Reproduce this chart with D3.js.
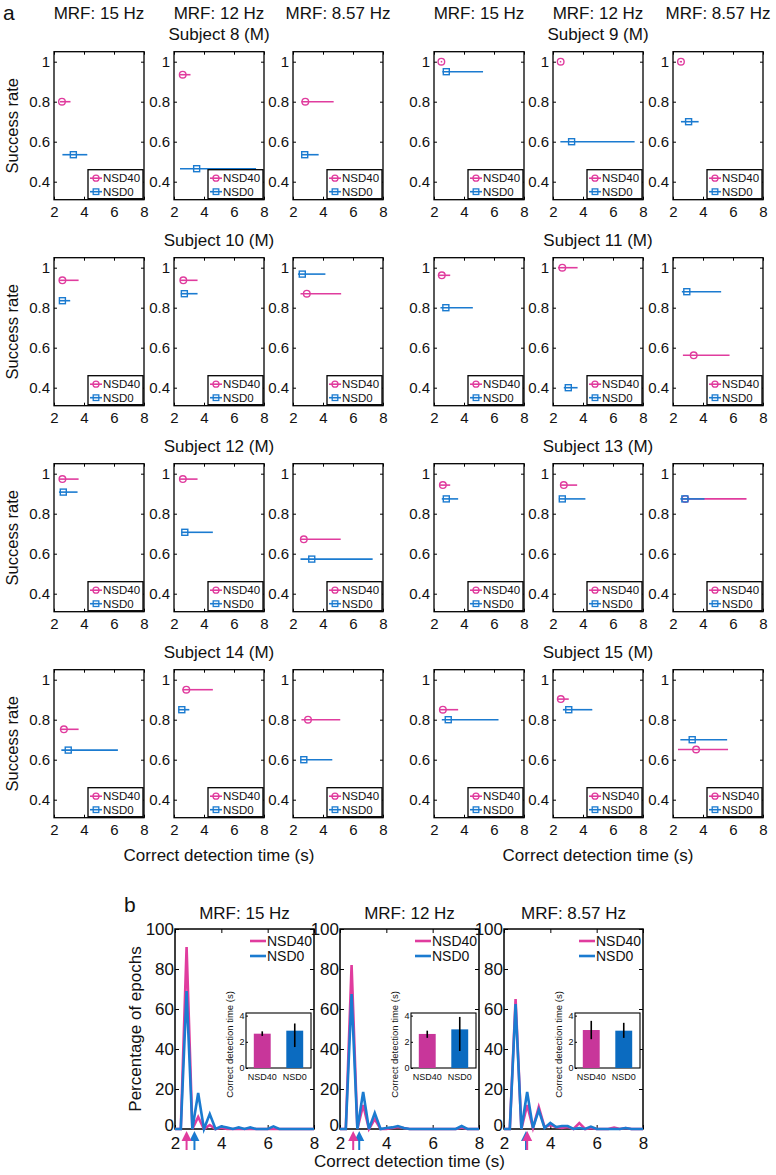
<!DOCTYPE html>
<html><head><meta charset="utf-8">
<script src="https://cdn.jsdelivr.net/npm/d3@7"></script>
<style>
body{margin:0;background:#fff}
svg{display:block}
text{font-family:"Liberation Sans",Arial,sans-serif;fill:#111}
</style>
</head><body>
<svg id="c" width="776" height="1175"></svg>
<script>
// ---------------- DATA ----------------
const subjects = ["Subject 8 (M)","Subject 9 (M)","Subject 10 (M)","Subject 11 (M)",
                  "Subject 12 (M)","Subject 13 (M)","Subject 14 (M)","Subject 15 (M)"];
const mrfLabels = ["MRF: 15 Hz","MRF: 12 Hz","MRF: 8.57 Hz"];
const seriesNames = ["NSD40","NSD0"];
const xTicksA = [2,4,6,8];
const yTicksA = [0.4,0.6,0.8,1];

// per subject: [15 Hz, 12 Hz, 8.57 Hz]
const nsd40Rate = [[0.80,0.935,0.80],[1.0,1.0,1.0],[0.937,0.937,0.87],[0.962,1.0,0.562],
                   [0.973,0.973,0.672],[0.943,0.943,0.874],[0.752,0.95,0.80],[0.85,0.903,0.651]];
const nsd40Time = [[2.53,2.58,2.82],[2.49,2.51,2.53],[2.56,2.62,2.92],[2.52,2.62,3.38],
                   [2.56,2.59,2.72],[2.59,2.72,2.82],[2.66,2.82,3.0],[2.59,2.52,3.54]];
const nsd40Lo   = [[2.40,2.40,2.56],[2.45,2.45,2.45],[2.33,2.40,2.50],[2.26,2.33,2.66],
                   [2.33,2.40,2.50],[2.36,2.49,2.59],[2.39,2.56,2.56],[2.36,2.33,2.33]];
const nsd40Hi   = [[3.10,3.10,4.71],[2.55,2.55,2.60],[3.64,3.57,5.21],[3.08,3.64,5.77],
                   [3.64,3.57,5.18],[3.08,3.61,6.90],[3.64,4.59,5.15],[3.61,3.05,5.67]];
const nsd0Rate  = [[0.535,0.465,0.535],[0.95,0.60,0.70],[0.835,0.87,0.968],[0.80,0.40,0.88],
                   [0.908,0.707,0.573],[0.874,0.874,0.874],[0.648,0.85,0.60],[0.80,0.85,0.70]];
const nsd0Time  = [[3.29,3.51,2.78],[2.82,3.24,3.04],[2.56,2.69,2.62],[2.79,3.02,2.92],
                   [2.62,2.72,3.25],[2.82,2.62,2.79],[2.95,2.52,2.72],[2.95,3.05,3.28]];
const nsd0Lo    = [[2.56,2.40,2.56],[2.56,2.49,2.53],[2.33,2.45,2.33],[2.43,2.72,2.59],
                   [2.33,2.50,2.50],[2.52,2.39,2.49],[2.49,2.30,2.49],[2.52,2.66,2.49]];
const nsd0Hi    = [[4.22,7.47,3.71],[5.27,7.44,3.71],[3.08,3.57,4.16],[4.59,3.64,5.21],
                   [3.57,4.59,7.31],[3.61,4.16,4.10],[6.26,3.02,4.62],[6.30,4.62,5.61]];

// part b histograms, bins in seconds
const histX = [2.0,2.25,2.5,2.75,3.0,3.25,3.5,3.75,4.0,4.25,4.5,4.75,5.0,5.25,5.5,5.75,6.0,6.25,6.5,6.75,7.0,7.25,7.5,7.75,8.0];
const histNSD40 = [
  [0,0,91,0,6,0,2,0,0.6,0,0,0,0,0,0,0,0,0,0,0,0,0,0,0,0],
  [0,0,82,0,12,0,5,0,0,0.5,1,0.5,0,0,0,0,0,0,0,0,0,0.8,0,0,0],
  [0,0,65,0,12,0.5,11,1,2,1,0.5,1,0,3,0,0.5,0,0,0,0.7,0,0.5,0,0,0]
];
const histNSD0 = [
  [0,0,69,0,18,0,7.5,0,1.3,0.8,0,0.8,0,0.8,0,0,0,1.3,0,0,0,0,0,0,0],
  [0,0,67.5,0,18.5,0,8,0,0.5,0.8,1.5,0.5,0,0,0,0,0,0,0,0,0,1.5,0,0,0],
  [0,0,62.5,0,18.5,0.5,9.5,0.5,3,1,1.5,1.5,0,0.5,0,1.2,0,0,0,0,0,0.5,0,0,0]
];
const xTicksB = [2,4,6,8];
const yTicksB = [0,20,40,60,80,100];
// inset bars: [NSD40, NSD0] per MRF
const insetMean = [[2.62,2.85],[2.60,2.95],[2.90,2.85]];
const insetLo   = [[2.45,1.60],[2.30,1.30],[2.20,2.30]];
const insetHi   = [[2.80,3.40],[2.85,3.90],[3.60,3.45]];
const insetTicks = [0,2,4];
const arrowNSD40 = [2.50,2.57,3.00];
const arrowNSD0  = [2.84,2.83,2.95];

// ---------------- DRAW ----------------
const svg = d3.select("#c");
const MAG = "#e03c9e", BLU = "#1b7bd0";
const BAR_MAG = "#c8369a", BAR_BLU = "#0b6bc0";
const LBL_MAG = "#da3fa2", LBL_BLU = "#2a86d6";
const fmtInt = d3.format("d");

function styleAxis(g, fs){
  g.select(".domain").remove();
  g.selectAll(".tick line").attr("stroke","#000").attr("stroke-width",1);
  g.selectAll(".tick text").attr("font-size",fs).attr("fill","#111")
    .style("font-family","'Liberation Sans',Arial,sans-serif");
}

svg.append("text").attr("x",3).attr("y",20).attr("font-size",21).text("a");
svg.append("text").attr("x",124).attr("y",912).attr("font-size",21).text("b");

// ---------- Part a ----------
const groupLefts = [[54,174,293],[434,553,673]];
const PW = 90, PH = 148, rowTop0 = 51.7, rowStep = 206;

groupLefts.forEach(gl => gl.forEach((l,mi) => {
  svg.append("text").attr("x",l+PW/2).attr("y",18.5).attr("text-anchor","middle")
     .attr("font-size",17).text(mrfLabels[mi]);
}));

subjects.forEach((subj, si) => {
  const g = si % 2, r = Math.floor(si/2);
  const top = rowTop0 + r*rowStep;
  const y = d3.scaleLinear().domain([0.31,1.05]).range([top+PH, top]);
  svg.append("text").attr("x",groupLefts[g][1]+PW/2).attr("y",top-12.2)
     .attr("text-anchor","middle").attr("font-size",17).text(subj);
  if (g===0){
    svg.append("text").attr("transform",`translate(12,${top+PH/2}) rotate(-90)`)
       .attr("text-anchor","middle").attr("dy","0.35em").attr("font-size",16.5).text("Success rate");
  }
  mrfLabels.forEach((m, mi) => {
    const left = groupLefts[g][mi];
    const x = d3.scaleLinear().domain([2,8]).range([left, left+PW]);
    const pg = svg.append("g");
    pg.append("rect").attr("x",left).attr("y",top).attr("width",PW).attr("height",PH)
      .attr("fill","#fff").attr("stroke","#000").attr("stroke-width",1.3);
    pg.append("g").attr("transform",`translate(0,${top+PH})`)
      .call(d3.axisBottom(x).tickValues(xTicksA).tickSizeInner(-3).tickSizeOuter(0).tickPadding(7).tickFormat(fmtInt))
      .call(a=>styleAxis(a,15));
    pg.append("g").attr("transform",`translate(0,${top})`)
      .call(d3.axisTop(x).tickValues(xTicksA).tickSizeInner(-3).tickSizeOuter(0).tickFormat(""))
      .call(a=>styleAxis(a,15));
    pg.append("g").attr("transform",`translate(${left},0)`)
      .call(d3.axisLeft(y).tickValues(yTicksA).tickSizeInner(-3).tickSizeOuter(0).tickPadding(4).tickFormat(d=>d===1?"1":d3.format(".1f")(d)))
      .call(a=>styleAxis(a,15));
    pg.append("g").attr("transform",`translate(${left+PW},0)`)
      .call(d3.axisRight(y).tickValues(yTicksA).tickSizeInner(-3).tickSizeOuter(0).tickFormat(""))
      .call(a=>styleAxis(a,15));

    const series = [
      {rate:nsd40Rate[si][mi], t:nsd40Time[si][mi], lo:nsd40Lo[si][mi], hi:nsd40Hi[si][mi], c:MAG, shape:"o"},
      {rate:nsd0Rate[si][mi],  t:nsd0Time[si][mi],  lo:nsd0Lo[si][mi],  hi:nsd0Hi[si][mi],  c:BLU, shape:"s"}
    ];
    series.forEach(s => {
      pg.append("line").attr("x1",x(s.lo)).attr("x2",x(s.hi)).attr("y1",y(s.rate)).attr("y2",y(s.rate))
        .attr("stroke",s.c).attr("stroke-width",1.6);
      if (s.shape==="o"){
        pg.append("circle").attr("cx",x(s.t)).attr("cy",y(s.rate)).attr("r",3.3)
          .attr("fill","none").attr("stroke",s.c).attr("stroke-width",1.4);
      } else {
        pg.append("rect").attr("x",x(s.t)-3).attr("y",y(s.rate)-3).attr("width",6).attr("height",6)
          .attr("fill","none").attr("stroke",s.c).attr("stroke-width",1.4);
      }
    });
    const lx = left+34, ly = top+PH-30;
    pg.append("rect").attr("x",lx).attr("y",ly).attr("width",55).attr("height",29)
      .attr("fill","#fff").attr("stroke","#000").attr("stroke-width",1.3);
    seriesNames.forEach((nm,k)=>{
      const cy = ly + 8.5 + k*13.5, c = k===0?MAG:BLU;
      pg.append("line").attr("x1",lx+2).attr("x2",lx+14).attr("y1",cy).attr("y2",cy)
        .attr("stroke",c).attr("stroke-width",1.6);
      if (k===0) pg.append("circle").attr("cx",lx+8).attr("cy",cy).attr("r",3)
        .attr("fill","none").attr("stroke",c).attr("stroke-width",1.3);
      else pg.append("rect").attr("x",lx+5.2).attr("y",cy-2.8).attr("width",5.6).attr("height",5.6)
        .attr("fill","none").attr("stroke",c).attr("stroke-width",1.3);
      pg.append("text").attr("x",lx+15).attr("y",cy).attr("dy","0.36em")
        .attr("font-size",11.5).attr("fill",c).text(nm);
    });
  });
});
[groupLefts[0][1]+PW/2, groupLefts[1][1]+PW/2].forEach(cx=>{
  svg.append("text").attr("x",cx).attr("y",861).attr("text-anchor","middle")
     .attr("font-size",17).text("Correct detection time (s)");
});

// ---------- Part b ----------
const bLefts = [175,340,504], BW = 139, bTop = 929, BH = 200;
svg.append("text").attr("transform",`translate(135,${bTop+BH/2}) rotate(-90)`)
   .attr("text-anchor","middle").attr("dy","0.35em").attr("font-size",17).text("Percentage of epochs");
svg.append("text").attr("x",bLefts[1]+BW/2).attr("y",1167).attr("text-anchor","middle")
   .attr("font-size",17).text("Correct detection time (s)");

mrfLabels.forEach((m, mi) => {
  const left = bLefts[mi];
  const x = d3.scaleLinear().domain([2,8]).range([left,left+BW]);
  const y = d3.scaleLinear().domain([0,100]).range([bTop+BH,bTop]);
  const pg = svg.append("g");
  pg.append("text").attr("x",left+BW/2).attr("y",919).attr("text-anchor","middle")
    .attr("font-size",17).text(m);
  pg.append("rect").attr("x",left).attr("y",bTop).attr("width",BW).attr("height",BH)
    .attr("fill","#fff").attr("stroke","#000").attr("stroke-width",1.5);
  pg.append("g").attr("transform",`translate(0,${bTop+BH})`)
    .call(d3.axisBottom(x).tickValues(xTicksB).tickSizeInner(-4).tickSizeOuter(0).tickPadding(8).tickFormat(fmtInt))
    .call(a=>styleAxis(a,17));
  pg.append("g").attr("transform",`translate(0,${bTop})`)
    .call(d3.axisTop(x).tickValues(xTicksB).tickSizeInner(-4).tickSizeOuter(0).tickFormat(""))
    .call(a=>styleAxis(a,16));
  pg.append("g").attr("transform",`translate(${left},0)`)
    .call(d3.axisLeft(y).tickValues(yTicksB).tickSizeInner(-4).tickSizeOuter(0).tickPadding(1).tickFormat(fmtInt))
    .call(a=>styleAxis(a,17))
    .call(a=>a.selectAll(".tick text").filter(d=>d===0).attr("dy","0.1em"));
  pg.append("g").attr("transform",`translate(${left+BW},0)`)
    .call(d3.axisRight(y).tickValues(yTicksB).tickSizeInner(-4).tickSizeOuter(0).tickFormat(""))
    .call(a=>styleAxis(a,16));

  const line = d3.line().x((d,i)=>x(histX[i])).y(d=>y(d));
  pg.append("path").attr("d",line(histNSD40[mi])).attr("fill","none")
    .attr("stroke",MAG).attr("stroke-width",2.6).attr("stroke-linejoin","miter");
  pg.append("path").attr("d",line(histNSD0[mi])).attr("fill","none")
    .attr("stroke",BLU).attr("stroke-width",2.6).attr("stroke-linejoin","miter");

  [[arrowNSD0[mi],BLU],[arrowNSD40[mi],MAG]].forEach(([v,c])=>{
    const ax = x(v), tip = bTop+BH+2;
    pg.append("rect").attr("x",ax-1).attr("y",tip+7).attr("width",2).attr("height",12).attr("fill",c);
    pg.append("path").attr("d",`M${ax},${tip}L${ax+5},${tip+10}L${ax-5},${tip+10}Z`).attr("fill",c);
  });

  const tx = left+BW-47;
  seriesNames.forEach((nm,k)=>{
    const cy = bTop+12+k*15, c = k===0?MAG:BLU;
    pg.append("line").attr("x1",tx-17).attr("x2",tx-1).attr("y1",cy).attr("y2",cy)
      .attr("stroke",c).attr("stroke-width",2.6);
    pg.append("text").attr("x",tx).attr("y",cy).attr("dy","0.36em").attr("font-size",14)
      .attr("fill",c).text(nm);
  });

  // inset
  const il = left+71, iw = 65, it = 1013, ih = 55;
  const ix = d3.scaleBand().domain(seriesNames).range([il,il+iw]).paddingInner(0.48).paddingOuter(0.24);
  const iy = d3.scaleLinear().domain([0,4.2]).range([it+ih,it]);
  pg.append("rect").attr("x",il).attr("y",it).attr("width",iw).attr("height",ih)
    .attr("fill","#fff").attr("stroke","#000").attr("stroke-width",1.1);
  seriesNames.forEach((nm,k)=>{
    const c = k===0?BAR_MAG:BAR_BLU;
    pg.append("rect").attr("x",ix(nm)).attr("y",iy(insetMean[mi][k])).attr("width",ix.bandwidth())
      .attr("height",iy(0)-iy(insetMean[mi][k])).attr("fill",c);
    const cx = ix(nm)+ix.bandwidth()/2;
    pg.append("line").attr("x1",cx).attr("x2",cx).attr("y1",iy(insetLo[mi][k])).attr("y2",iy(insetHi[mi][k]))
      .attr("stroke","#000").attr("stroke-width",1.6);
    pg.append("text").attr("x",cx).attr("y",it+ih+11.5).attr("text-anchor","middle")
      .attr("font-size",9).attr("fill",k===0?LBL_MAG:LBL_BLU).text(nm);
  });
  pg.append("g").attr("transform",`translate(${il},0)`)
    .call(d3.axisLeft(iy).tickValues(insetTicks).tickSizeInner(-2).tickSizeOuter(0).tickPadding(1.5).tickFormat(fmtInt))
    .call(a=>styleAxis(a,9));
  pg.append("text").attr("transform",`translate(${il-16},${it+ih/2+4}) rotate(-90)`)
    .attr("text-anchor","middle").attr("dy","0.35em").attr("font-size",9.5)
    .text("Correct detection time (s)");
});
</script>
</body></html>
